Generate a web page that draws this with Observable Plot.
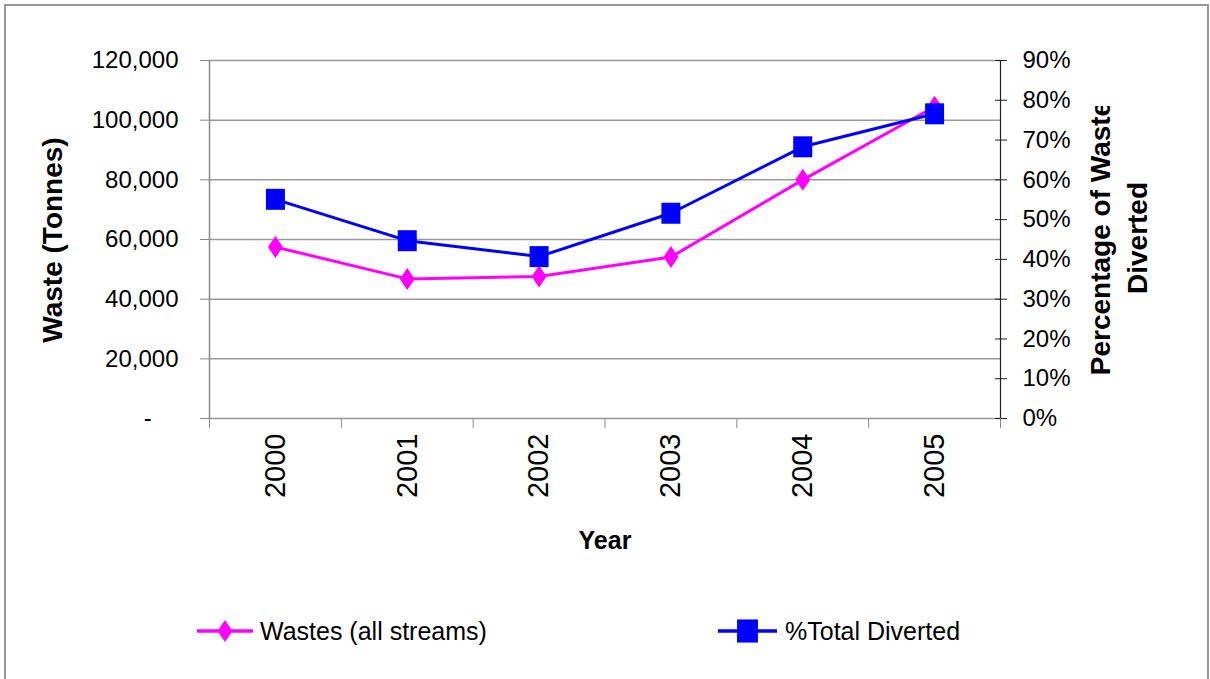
<!DOCTYPE html>
<html><head><meta charset="utf-8">
<script src="https://cdn.jsdelivr.net/npm/d3@7"></script>
<script src="https://cdn.jsdelivr.net/npm/@observablehq/plot@0.6"></script>
<style>
body{margin:0;background:#fff;}
#chart{position:relative;width:1210px;height:679px;overflow:hidden;background:#fff}
</style>
</head><body><div id="chart"></div>
<script>
// ---- data ----
const years = [2000, 2001, 2002, 2003, 2004, 2005];
const wastes = [57500, 46800, 47600, 54100, 80000, 104500];
const diverted = [0.551, 0.447, 0.407, 0.516, 0.683, 0.766];
const wasteTicks = [0, 20000, 40000, 60000, 80000, 100000, 120000];
const pctTicks = [0, 0.1, 0.2, 0.3, 0.4, 0.5, 0.6, 0.7, 0.8, 0.9];
const seriesNames = ["Wastes (all streams)", "%Total Diverted"];
const xTitle = "Year";
const yTitleLeft = "Waste (Tonnes)";
const yTitleRight = ["Percentage of Waste", "Diverted"];

const Y_MAX = 120000, P_MAX = 0.9;
const toY = p => p * Y_MAX / P_MAX;
const boundaries = years.map(y => y - 0.5).concat([years[years.length - 1] + 0.5]);

const wasteData = years.map((yr, i) => ({year: yr, value: wastes[i]}));
const divData = years.map((yr, i) => ({year: yr, value: toY(diverted[i])}));

const MAGENTA = "#ff00ff", BLUE = "#0000ff";
const diamondSym = {draw(ctx) { const w = 7.5, h = 11; ctx.moveTo(0, -h); ctx.lineTo(w, 0); ctx.lineTo(0, h); ctx.lineTo(-w, 0); ctx.closePath(); }};
const rectSym = {draw(ctx) { const w = 9.5, h = 10.5; ctx.rect(-w, -h, 2 * w, 2 * h); }};

const plot = Plot.plot({
  width: 1210, height: 679,
  marginLeft: 209, marginRight: 210, marginTop: 60, marginBottom: 261,
  style: {fontFamily: "'Liberation Sans', Arial, sans-serif", fontSize: "24px", background: "transparent", color: "#000", overflow: "visible"},
  x: {type: "linear", domain: [boundaries[0], boundaries[boundaries.length - 1]]},
  y: {type: "linear", domain: [0, Y_MAX]},
  marks: [
    Plot.ruleY(wasteTicks, {stroke: "#999", strokeWidth: 1.5}),
    Plot.ruleX([boundaries[0]], {stroke: "#888", strokeWidth: 1.5}),
    Plot.ruleX([boundaries[boundaries.length - 1]], {stroke: "#222", strokeWidth: 1.2}),
    Plot.axisY({anchor: "left", ticks: wasteTicks, tickSize: 9, tickPadding: 22, stroke: "#888", fill: "#000",
      tickFormat: d => d === 0 ? "-\u00a0\u00a0\u00a0\u00a0" : d3.format(",")(d), label: null, fontSize: 24}),
    Plot.axisY({anchor: "right", ticks: pctTicks.map(toY), tickSize: 12, dx: -6, tickPadding: 16, stroke: "#222", fill: "#000",
      tickFormat: d => Math.round(d / Y_MAX * P_MAX * 100) + "%", label: null, fontSize: 24}),
    Plot.axisX({ticks: boundaries, tickSize: 10, stroke: "#888", tickFormat: () => "", label: null}),
    Plot.axisX({ticks: years, tickSize: 0, tickPadding: 15, tickRotate: -90, tickFormat: d => String(d), label: null, fill: "#000", fontSize: 29}),
    Plot.line(wasteData, {x: "year", y: "value", stroke: MAGENTA, strokeWidth: 3}),
    Plot.dot(wasteData, {x: "year", y: "value", symbol: diamondSym, fill: MAGENTA, stroke: "none", r: 8}),
    Plot.line(divData, {x: "year", y: "value", stroke: BLUE, strokeWidth: 3}),
    Plot.dot(divData, {x: "year", y: "value", symbol: rectSym, fill: BLUE, stroke: "none", r: 8})
  ]
});

document.getElementById("chart").appendChild(plot);
const svg = d3.select(plot);

// outer border
svg.insert("rect", ":first-child").attr("x", 5).attr("y", 5).attr("width", 1203).attr("height", 720)
  .attr("fill", "#fff").attr("stroke", "#999").attr("stroke-width", 2);

const defs = svg.append("defs");
defs.append("clipPath").attr("id", "clipL").append("rect").attr("x", 0).attr("y", 138).attr("width", 200).attr("height", 541);
defs.append("clipPath").attr("id", "clipR").append("rect").attr("x", 1080).attr("y", 106).attr("width", 130).attr("height", 573);

const bold = "'Liberation Sans', Arial, sans-serif";
svg.append("g").attr("clip-path", "url(#clipL)")
  .append("text").attr("transform", "translate(52,240) rotate(-90)")
  .attr("text-anchor", "middle").attr("dominant-baseline", "central")
  .attr("font-family", bold).attr("font-weight", "bold").attr("font-size", 28).text(yTitleLeft);

const gR = svg.append("g").attr("clip-path", "url(#clipR)");
yTitleRight.forEach((t, i) => {
  gR.append("text").attr("transform", `translate(${1100 + i * 37},238) rotate(-90)`)
    .attr("text-anchor", "middle").attr("dominant-baseline", "central")
    .attr("font-family", bold).attr("font-weight", "bold").attr("font-size", 28).text(t);
});

svg.append("text").attr("x", 605).attr("y", 540).attr("text-anchor", "middle").attr("dominant-baseline", "central")
  .attr("font-family", bold).attr("font-weight", "bold").attr("font-size", 25).text(xTitle);

// legend
const legend = [
  {name: seriesNames[0], color: MAGENTA, sym: diamondSym, x0: 197, x1: 253, tx: 260, mw: 1},
  {name: seriesNames[1], color: BLUE, sym: rectSym, x0: 718, x1: 777, tx: 785, mw: 1.1}
];
const ly = 631;
legend.forEach(l => {
  const g = svg.append("g");
  g.append("line").attr("x1", l.x0).attr("x2", l.x1).attr("y1", ly).attr("y2", ly).attr("stroke", l.color).attr("stroke-width", 3.5);
  g.append("path").attr("d", d3.symbol(l.sym)()).attr("transform", `translate(${(l.x0 + l.x1) / 2},${ly}) scale(${l.mw})`).attr("fill", l.color);
  g.append("text").attr("x", l.tx).attr("y", ly).attr("text-anchor", "start").attr("dominant-baseline", "central")
    .attr("font-family", bold).attr("font-size", 25).attr("fill", "#000").text(l.name);
});
</script>
</body></html>
